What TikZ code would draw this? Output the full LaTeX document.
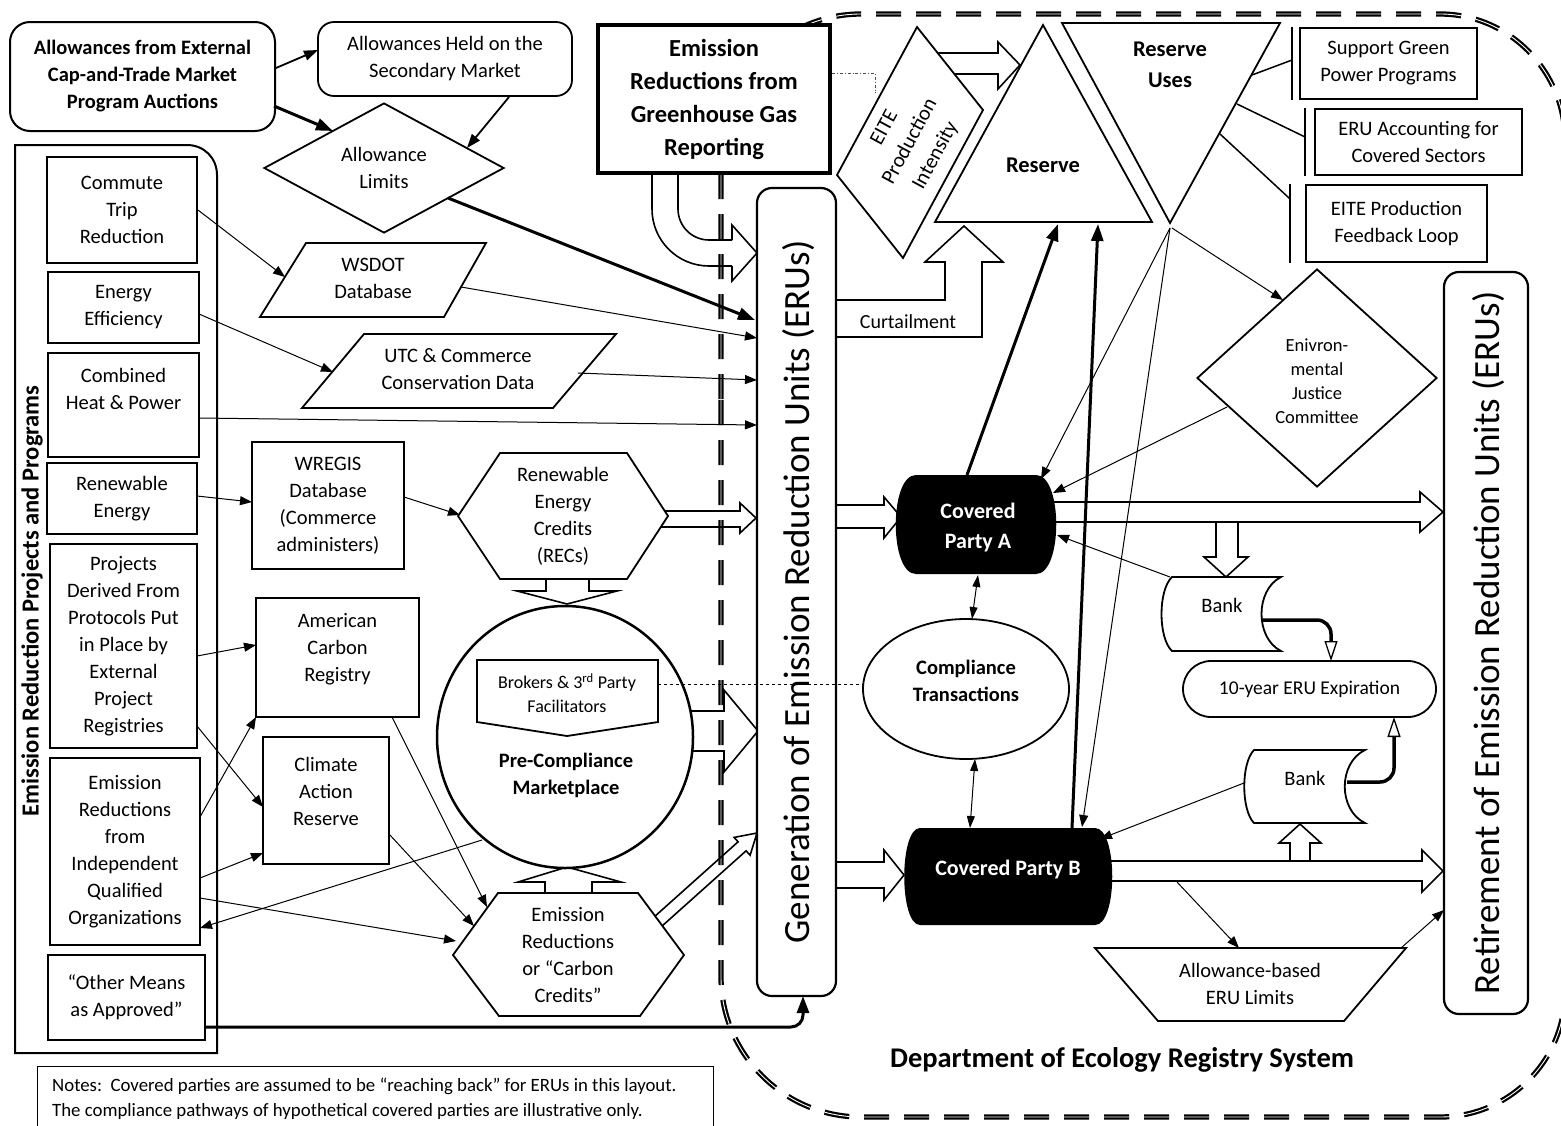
\documentclass[tikz,border=0pt]{standalone}
\usepackage{fontspec}
\setmainfont{Carlito}
\usetikzlibrary{arrows.meta,shapes.geometric,calc}
\tikzset{
 txt/.style={font=\fontsize{20.5}{27}\selectfont, align=center},
 btxt/.style={font=\bfseries\fontsize{20.5}{27}\selectfont, align=center},
 box/.style={draw, line width=1.8pt, fill=white, txt, inner sep=0pt},
 ibox/.style={box, line width=2.6pt},
 rbox/.style={box, rounded corners=16pt},
 shp/.style={draw, line width=1.8pt, fill=white, line join=miter},
 lbl/.style={txt, inner sep=0pt},
 arr/.style={-{Triangle[length=12pt,width=9pt]}, line width=1pt},
 marr/.style={-{Triangle[length=14pt,width=10pt]}, line width=1.8pt},
 tarr/.style={-{Triangle[length=17pt,width=12pt]}, line width=3pt},
 darr/.style={{Triangle[length=12pt,width=8pt]}-{Triangle[length=12pt,width=8pt]}, line width=1pt},
 blk/.style={draw, line width=1.6pt, line join=miter},
 bnd/.style={draw, double, double distance=0.9pt, line width=2.2pt, dash pattern=on 25pt off 15pt},
 bcurve/.style={line width=3.5pt, rounded corners=14pt, -{Triangle[open, length=20pt, width=13pt, line width=1.3pt]}},
}
\begin{document}
\begin{tikzpicture}[x=1pt,y=-1pt]
\useasboundingbox (0,0) rectangle (1561,1125);

% ---------------- registry boundary
\path[bnd] (721,400) -- (721,977) .. controls (721,1054) and (784,1117) .. (861,1117) -- (1440,1117)
  .. controls (1509,1117) and (1565,1061) .. (1565,992) -- (1565,140)
  .. controls (1565,71) and (1509,14) .. (1440,14) -- (861,14)
  .. controls (784,14) and (721,77) .. (721,155) -- (721,400);

% ---------------- block arrows
\draw[blk, rounded corners=57pt] (652,173) -- (652,266) -- (732,266);
\draw[blk] (732,266) -- (732,281) -- (757,253) -- (732,225) -- (732,240);
\draw[blk, rounded corners=31pt] (732,240) -- (678,240) -- (678,173);
\draw[blk] (837,300) -- (945,300) -- (945,262) -- (925,262) -- (964,226) -- (1003,262) -- (982,262) -- (982,337) -- (837,337);
\draw[blk] (930,53) -- (998,53) -- (998,42) -- (1020,65) -- (998,89) -- (998,74) -- (930,74);
\draw[blk] (660,511) -- (740,511) -- (740,503) -- (756,518) -- (740,533) -- (740,527) -- (660,527);
\draw[blk] (546,575) -- (546,591) -- (517,591) -- (567,604) -- (617,591) -- (589,591) -- (589,575);
\draw[blk] (680,711) -- (724,711) -- (724,690) -- (758,731) -- (724,772) -- (724,751) -- (680,751);
\draw[blk] (545,900) -- (545,882) -- (518,882) -- (567,867) -- (621,882) -- (592,882) -- (592,900);
\draw[blk] (646.8,923.5) -- (738.1,841.8) -- (734.1,837.4) -- (757,833) -- (750.1,855.2) -- (746.1,850.8) -- (654.8,932.5);
\draw[blk] (837,505) -- (884,505) -- (884,497) -- (901,517) -- (884,538) -- (884,528) -- (837,528);
\draw[blk] (837,862) -- (884,862) -- (884,850) -- (904,875) -- (884,900) -- (884,888) -- (837,888);
\draw[blk] (1050,502) -- (1420,502) -- (1420,492) -- (1443,512) -- (1420,532) -- (1420,522) -- (1050,522);
\draw[blk] (1100,861) -- (1422,861) -- (1422,850) -- (1443,871) -- (1422,892) -- (1422,881) -- (1100,881);
\draw[blk] (1216,522) -- (1216,557) -- (1204,557) -- (1226,577) -- (1248,557) -- (1238,557) -- (1238,522);
\draw[blk] (1290,861) -- (1290,843) -- (1279,843) -- (1300,824) -- (1321,843) -- (1310,843) -- (1310,861);

% ---------------- top-left
\node[rbox, btxt, line width=2pt, rounded corners=20pt, minimum width=265pt, minimum height=109pt] (aucts) at (142.5,76.5) {Allowances from External\\Cap-and-Trade Market\\Program Auctions};
\node[rbox, minimum width=254pt, minimum height=74pt] (secmkt) at (445,59) {Allowances Held on the\\Secondary Market};
\node[box, diamond, aspect=1.85, minimum width=240pt, minimum height=130pt] (alim) at (384,168) {Allowance\\Limits};

% ---------------- left container
\draw[line width=2pt] (15,1053) -- (15,145) -- (187,145) .. controls (204,145) and (217,158) .. (217,175) -- (217,1053) -- cycle;
\node[rotate=90, font=\bfseries\fontsize{24.5}{28}\selectfont] (title) at (32,601) {Emission Reduction Projects and Programs};
\node[ibox, minimum width=150pt, minimum height=106pt] (cmt) at (122,210) {Commute\\Trip\\Reduction};
\node[ibox, minimum width=151pt, minimum height=71pt] (eneff) at (123.5,307.5) {Energy\\Efficiency};
\node[ibox, minimum width=151pt, minimum height=104pt] (chp) at (123.5,405) {};
\node[lbl] (chpt) at ($(chp)+(0,-16.5)$) {Combined\\Heat \& Power};
\node[ibox, minimum width=150pt, minimum height=71pt] (renew) at (122,498.5) {Renewable\\Energy};
\node[ibox, minimum width=147pt, minimum height=204pt] (proj) at (123.5,646) {Projects\\Derived From\\Protocols Put\\in Place by\\External\\Project\\Registries};
\node[ibox, minimum width=150pt, minimum height=187pt] (iqo) at (125,851.5) {Emission\\Reductions\\from\\Independent\\Qualified\\Organizations};
\node[ibox, minimum width=157pt, minimum height=85pt] (other) at (126.5,997.5) {“Other Means\\as Approved”};

% ---------------- middle
\draw[shp] (306,243) -- (486,243) -- (444,317) -- (260,317) -- cycle;
\node[lbl] (wsdot) at (373,278) {WSDOT\\Database};
\draw[shp] (364,334) -- (616,334) -- (553,408) -- (302,408) -- cycle;
\node[lbl] (utc) at (458,369) {UTC \& Commerce\\Conservation Data};
\node[box, minimum width=152pt, minimum height=127pt] (wregis) at (328,505.5) {WREGIS\\Database\\(Commerce\\administers)};
\draw[shp] (458,516) -- (500,453) -- (627,453) -- (668,516) -- (627,579) -- (500,579) -- cycle;
\node[lbl] (recs) at (563,516) {Renewable\\Energy\\Credits\\(RECs)};
\node[draw, ellipse, line width=2.5pt, fill=white, minimum width=256pt, minimum height=262pt, inner sep=0pt] (pcm) at (565,737) {};
\draw[shp] (477,660) -- (658,660) -- (658,722) -- (567,736) -- (477,722) -- cycle;
\node[lbl, font=\fontsize{18}{24}\selectfont] (brokers) at (567,693) {Brokers \& 3\textsuperscript{rd} Party\\Facilitators};
\node[lbl, btxt] (pcmt) at (566,775.5) {Pre-Compliance\\Marketplace};
\node[box, minimum width=163pt, minimum height=119pt] (acr) at (337.5,657.5) {};
\node[lbl] (acrt) at ($(acr)+(0,-8.5)$) {American\\Carbon\\Registry};
\node[box, minimum width=126pt, minimum height=127pt] (car) at (326,800.5) {};
\node[lbl] (cart) at ($(car)+(0,-9)$) {Climate\\Action\\Reserve};
\draw[shp] (453,955) -- (498,893) -- (638,893) -- (684,955) -- (640,1016) -- (499,1016) -- cycle;
\node[lbl] (erhex) at (568,955) {Emission\\Reductions\\or “Carbon\\Credits”};

\node[box, line width=4pt, minimum width=232pt, minimum height=148pt, font=\bfseries\fontsize{24.5}{33}\selectfont] (ghg) at (714,99) {Emission\\Reductions from\\Greenhouse Gas\\Reporting};
\draw[black!70, line width=0.8pt, dash dot] ($(ghg.east)+(0,-26)$) -- ++(43,0) -- ++(0,20);

\node[draw, rounded corners=15pt, line width=2.2pt, fill=white, minimum width=79pt, minimum height=808pt] (gen) at (796.5,592) {};
\node[rotate=90, font=\fontsize{37}{40}\selectfont] (gent) at (799,592) {Generation of Emission Reduction Units (ERUs)};

% ---------------- reserve area
\draw[shp] (917,27) -- (983,110) -- (903,258) -- (837,175) -- cycle;
\node[lbl, rotate=61.6, font=\fontsize{21}{29}\selectfont] (eite) at (910.5,142) {EITE\\Production\\Intensity};
\draw[shp] (1043,25) -- (1152,222) -- (935,222) -- cycle;
\node[lbl, font=\bfseries\fontsize{22.5}{31}\selectfont] (reserve) at (1043,165) {Reserve};
\draw[shp] (1062,23) -- (1280,23) -- (1170,223) -- cycle;
\node[lbl, font=\bfseries\fontsize{22.5}{31}\selectfont] (ruses) at (1170,64.5) {Reserve\\Uses};
\node[lbl, font=\fontsize{20}{24}\selectfont] (curt) at (908,322) {Curtailment};

\node[box, minimum width=177pt, minimum height=71pt] (sgp) at (1388.5,63.5) {Support Green\\Power Programs};
\node[box, minimum width=207pt, minimum height=66pt] (eruacc) at (1418.5,142) {ERU Accounting for\\Covered Sectors};
\node[box, minimum width=181pt, minimum height=77pt] (eitefb) at (1396.5,223.5) {EITE Production\\Feedback Loop};
\draw[line width=1.8pt] ($(sgp.north west)+(-7,0)$) -- ($(sgp.south west)+(-7,0)$);
\draw[line width=1.8pt] ($(eruacc.north west)+(-9,0)$) -- ($(eruacc.south west)+(-9,0)$);
\draw[line width=1.8pt] ($(eitefb.north west)+(-15,0)$) -- ($(eitefb.south west)+(-15,0)$);
\draw[line width=1.5pt] ($(ruses)+(82,10.5)$) -- ($(sgp.west)+(-7,-3.5)$);
\draw[line width=1.5pt] ($(ruses)+(67,39.5)$) -- ($(eruacc.west)+(-9,-5)$);
\draw[line width=1.5pt] ($(ruses)+(50,69.5)$) -- ($(eitefb.west)+(-15,-24.5)$);

\node[box, diamond, aspect=1.1, minimum width=240pt, minimum height=218pt] (ej) at (1317,378) {};
\node[lbl, font=\fontsize{18.5}{24}\selectfont] (ejt) at ($(ej)+(0,3)$) {Enivron-\\mental\\Justice\\Committee};

% ---------------- covered parties
\fill (916,475) -- (1036,475) .. controls (1063,475) and (1063,574) .. (1036,574) -- (916,574) .. controls (889,574) and (889,475) .. (916,475) -- cycle;
\coordinate (cpa) at (978,524.5);
\node[lbl, text=white, font=\bfseries\fontsize{22}{30}\selectfont] (cpat) at (978,528) {Covered\\Party A};
\fill (920,828) -- (1095,828) .. controls (1118,828) and (1118,925) .. (1095,925) -- (920,925) .. controls (899,925) and (899,828) .. (920,828) -- cycle;
\coordinate (cpb) at (1008,876.5);
\node[lbl, text=white, font=\bfseries\fontsize{22}{30}\selectfont] (cpbt) at (1008,869) {Covered Party B};

\node[draw, ellipse, line width=1.8pt, fill=white, minimum width=206pt, minimum height=140pt, inner sep=0pt] (ctx) at (966,689) {};
\node[lbl, btxt] (ctxt) at (966,681) {Compliance\\Transactions};

\draw[shp] (1172,577) -- (1281,577) .. controls (1255,590) and (1255,638) .. (1281,651) -- (1172,651) .. controls (1158,638) and (1158,590) .. (1172,577) -- cycle;
\coordinate (bank1) at (1222,614);
\node[lbl] (bank1t) at (1222,605) {Bank};
\draw[shp] (1254,750) -- (1365,750) .. controls (1338,763) and (1338,810) .. (1365,823) -- (1254,823) .. controls (1241,810) and (1241,763) .. (1254,750) -- cycle;
\coordinate (bank2) at (1305,786.5);
\node[lbl] (bank2t) at (1305,778) {Bank};
\node[box, rounded corners=28pt, minimum width=253pt, minimum height=56pt, font=\fontsize{19.5}{24}\selectfont] (exp) at (1309.5,689) {10-year ERU Expiration};

\draw[shp] (1095,948) -- (1406,948) -- (1344,1021) -- (1158,1021) -- cycle;
\node[lbl] (abl) at (1250,984) {Allowance-based\\ERU Limits};

\node[draw, rounded corners=15pt, line width=2.2pt, fill=white, minimum width=84pt, minimum height=742pt] (ret) at (1486,643) {};
\node[rotate=90, font=\fontsize{37}{40}\selectfont] (rett) at (1489,643) {Retirement of Emission Reduction Units (ERUs)};

\node[font=\bfseries\fontsize{28.5}{32}\selectfont] (dept) at (1122,1060) {Department of Ecology Registry System};

\draw[line width=1pt] (37,1128) -- (37,1066) -- (713,1066) -- (713,1128);
\node[anchor=base west, font=\fontsize{18.8}{22}\selectfont, inner sep=0pt] (note1) at (52,1091) {Notes:\ \ Covered parties are assumed to be “reaching back” for ERUs in this layout.};
\node[anchor=base west, font=\fontsize{18.8}{22}\selectfont, inner sep=0pt] (note2) at (52,1116) {The compliance pathways of hypothetical covered parties are illustrative only.};

% ---------------- connectors
\draw[marr] ($(aucts)+(133.5,-8.5)$) -- ($(secmkt)+(-127,-9)$);
\draw[tarr] ($(aucts)+(131.5,29.5)$) -- ($(alim)+(-51,-37)$);
\draw[marr] ($(secmkt)+(64,38)$) -- ($(alim)+(83,-20)$);
\draw[tarr] ($(alim)+(64,30)$) -- ($(gen)+(-41.5,-272)$);
\draw[arr] ($(cmt)+(76,0)$) -- ($(wsdot)+(-88,-1)$);
\draw[arr] ($(eneff)+(75.5,6.5)$) -- ($(utc)+(-125,3)$);
\draw[arr] ($(chp)+(75.5,13)$) -- ($(gen)+(-39.5,-167)$);
\draw[arr] ($(wsdot)+(88,9)$) -- ($(gen)+(-39.5,-254)$);
\draw[arr] ($(utc)+(120,4)$) -- ($(gen)+(-39.5,-212)$);
\draw[arr] ($(renew)+(75,-2.5)$) -- ($(wregis)+(-76,-3.5)$);
\draw[arr] ($(wregis)+(76,-8.5)$) -- ($(recs)+(-103,-1)$);
\draw[arr] ($(proj)+(73.5,10)$) -- ($(acr)+(-81.5,-12.5)$);
\draw[arr] ($(proj)+(73.5,80)$) -- ($(car)+(-63,6.5)$);
\draw[arr] ($(iqo)+(75,-34.5)$) -- ($(acr)+(-81.5,59.5)$);
\draw[arr] ($(iqo)+(75,26.5)$) -- ($(car)+(-63,52.5)$);
\draw[arr] ($(iqo)+(75,46.5)$) -- ($(erhex)+(-112,-14)$);
\draw[arr] ($(pcm)+(-83,103)$) -- ($(iqo)+(75,76.5)$);
\draw[arr] ($(acr)+(54.5,59.5)$) -- ($(erhex)+(-81,-48)$);
\draw[arr] ($(car)+(63,33.5)$) -- ($(erhex)+(-94,-29)$);
\draw[dashed, line width=0.8pt] ($(brokers)+(91,-9)$) -- ($(ctx)+(-102,-5)$);
\draw[tarr, rounded corners=12pt] ($(other)+(78.5,29.5)$) -| ($(gen)+(6.5,404)$);

\draw[arr] ($(ruses)+(2,163.5)$) -- ($(ej)+(-34,-78)$);
\draw[arr] ($(ruses)+(0,163.5)$) -- ($(cpa)+(63,-45.5)$);
\draw[arr] ($(ruses)+(0,163.5)$) -- ($(cpb)+(74,-49.5)$);
\draw[arr] ($(ej)+(-90,29)$) -- ($(cpa)+(75,-31.5)$);
\draw[arr] ($(bank1)+(-52,-37)$) -- ($(cpa)+(79,10.5)$);
\draw[arr] ($(bank2)+(-61,-3.5)$) -- ($(cpb)+(92,-37.5)$);
\draw[darr] ($(cpa)+(0,50.5)$) -- ($(ctx)+(6,-70)$);
\draw[darr] ($(ctx)+(9,70)$) -- ($(cpb)+(-38,-48.5)$);
\draw[arr] ($(cpb)+(169,5.5)$) -- ($(abl)+(-11,-36)$);
\draw[arr] ($(abl)+(151,-36)$) -- ($(ret)+(-42,267)$);
\draw[tarr] ($(cpa)+(-11,-49.5)$) -- ($(reserve)+(15,59)$);
\draw[tarr] ($(cpb)+(64,-48.5)$) -- ($(reserve)+(55,59)$);
\draw[bcurve] ($(bank1)+(40,6)$) -| ($(exp)+(21.5,-28)$);
\draw[bcurve] ($(bank2)+(42,-4.5)$) -| ($(exp)+(84.5,28)$);
\end{tikzpicture}
\end{document}
